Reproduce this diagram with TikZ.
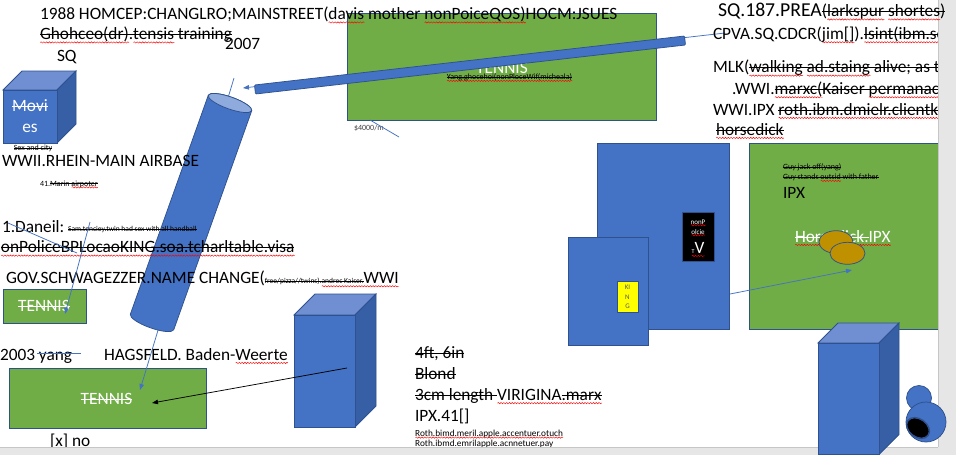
\documentclass[tikz,border=0pt]{standalone}
\usepackage{fontspec}
\setmainfont{Carlito}
\usetikzlibrary{arrows.meta,decorations.pathmorphing}
\definecolor{obl}{HTML}{4472C4}
\definecolor{oln}{HTML}{2F528F}
\definecolor{ogr}{HTML}{70AD47}
\definecolor{otop}{HTML}{6F8FD2}
\definecolor{oside}{HTML}{365FA6}
\definecolor{ltop}{HTML}{8FAADC}
\definecolor{ogold}{HTML}{BF9000}
\definecolor{sbar}{HTML}{E6E6E6}
\definecolor{sline}{HTML}{C6C6C6}
\definecolor{ylw}{HTML}{FFFF00}
\newlength\wvlen
\newcommand\ST[1]{\leavevmode\setbox0\hbox{#1}\rlap{\rule[0.25em]{\wd0}{0.065em}}\box0\relax}
\newcommand\WV[1]{\leavevmode\setbox0\hbox{#1}\setlength\wvlen{\wd0}\rlap{\tikz[baseline=0pt]\draw[red,line width=0.45pt,decorate,decoration={snake,amplitude=0.65pt,segment length=2.8pt}] (0pt,-0.17em) -- (\wvlen,-0.17em);}\box0\relax}
\newcommand\tf{\fontsize{7.5}{9}\selectfont}
\newcommand\mycube[5]{%
 \path[shp,fill=otop] (#1,#2) -- ({#1+#5},{#2-#5}) -- ({#3+#5},{#2-#5}) -- (#3,#2) -- cycle;
 \path[shp,fill=oside] (#3,#2) -- ({#3+#5},{#2-#5}) -- ({#3+#5},{#4-#5}) -- (#3,#4) -- cycle;
 \path[shp,fill=obl] (#1,#2) rectangle (#3,#4);}
\tikzset{
 tx/.style={anchor=base west, inner sep=0pt, outer sep=0pt, font=\fontsize{17.3}{21.1}\selectfont},
 sm/.style={anchor=base west, inner sep=0pt, outer sep=0pt, font=\fontsize{8}{9.8}\selectfont},
 shp/.style={draw=oln, line width=0.75pt},
 bluebox/.style={shp, fill=obl, anchor=north west, inner sep=0pt},
 greenbox/.style={shp, fill=ogr, anchor=north west, inner sep=0pt},
 bline/.style={draw=obl, line width=0.75pt},
 arr/.style={-{Triangle[length=6pt,width=4.5pt]}}
}
\begin{document}
\begin{tikzpicture}[x=1pt,y=-1pt]
\useasboundingbox (0,0) rectangle (956,455);
\fill[white] (0,0) rectangle (956,455);

% centre tennis box
\node[greenbox, minimum width=309pt, minimum height=107pt] (tcen) at (347,13) {};
\node[tx, text=white, anchor=base] (tcenT) at (502,73.6) {TENNIS};
\node[sm, anchor=base] (tcenS) at (509.5,79.5) {\ST{\WV{Yang.ghocehoi(nonPloceWif(micheala)}}};
\node[sm, text=black!75] (price) at (354,130.5) {\$4000/m};
\coordinate (p1) at (370,120); \coordinate (p2) at (399,137);
\draw[bline] (p1) -- (p2);

% long arrow and bar
\coordinate (cpa) at (725,33); \coordinate (cpb) at (243,88);
\draw[bline,arr] (cpa) -- (cpb);
\path[shp, fill=obl, rounded corners=1pt] (254.5,85) -- (684.5,36) -- (685.5,45) -- (255.5,94) -- cycle;

% top-left texts
\node[tx] (l1) at (40,19.5) {1988 HOMCEP:CHANGLRO;MAINSTREET(\WV{davis} mother \WV{nonPoiceQOS)}HOCM:JSUES};
\node[tx] (l2) at (40,39.5) {\ST{\WV{Ghohceo(dr)}.\WV{tensis} training}};
\node[tx] (l3) at (225,49.3) {2007};
\node[tx] (l4) at (57,61.7) {SQ};

% movies cube
\mycube{3}{90}{57}{143}{19}
\node[tx, text=white, anchor=base] (mov1) at (30,111) {\ST{Movi}};
\node[tx, text=white, anchor=base] (mov2) at (30,132.7) {es};
\node[sm, anchor=base] (sex) at (33,150.5) {\ST{Sex and city}};

% big tennis box (bottom left)
\node[greenbox, minimum width=197pt, minimum height=60pt] (ten2) at (9,368) {};
\node[tx, text=white, anchor=base] (ten2t) at (106.5,404) {\ST{TENNIS}};

% small tennis box
\node[greenbox, minimum width=83pt, minimum height=34pt] (ten1) at (3,289) {};
\node[tx, text=white, anchor=base] (ten1t) at (44,311.5) {\ST{TENNIS}};

% arrow through cylinder
\coordinate (c1) at (234,78); \coordinate (c2) at (140,390);
\draw[bline,arr] (c1) -- (c2);

% cylinder
\begin{scope}[shift={(230,103)}, x={(0.944pt,-0.336pt)}, y={(-0.336pt,-0.944pt)}]
 \path[shp, fill=obl] (23,0) -- (23,232) arc[start angle=0, end angle=180, x radius=23, y radius=6] -- (-23,0) arc[start angle=180, end angle=360, x radius=23, y radius=6] -- cycle;
 \path[shp, fill=ltop] (0,0) ellipse [x radius=23, y radius=6];
\end{scope}

% left texts
\node[tx] (air) at (2,166.7) {WWII.RHEIN-MAIN AIRBASE};
\node[sm] (marin) at (40,186) {41.\ST{Marin \WV{airpoter}}};
\node[tx] (dan) at (2,232.3) {1.Daneil:};
\node[anchor=base west, inner sep=0pt, font=\tf] (sam) at (68,231.5) {\ST{Sam.tenciey.twin had sex with all handball}};
\node[tx] (onp) at (1,252.7) {\ST{\WV{onPoliceBPLocaoKING.soa.tcharltable.visa}}};
\node[tx] (gov) at (6,283.3) {GOV.SCHWAGEZZER.NAME CHANGE({\tf\ST{free/pizza//twins).}}\WV{{\tf\ST{andrec Kaiser.}}WWI}};
\coordinate (d1) at (8,223); \coordinate (d2) at (77,253);
\draw[bline] (d1) -- (d2);
\coordinate (d3) at (90,222); \coordinate (d4) at (65,314);
\draw[bline,arr] (d3) -- (d4);

% bottom left texts
\node[tx] (y2003) at (0,360) {2003 yang};
\coordinate (yl1) at (37,353); \coordinate (yl2) at (81,353);
\draw[bline] (yl1) -- (yl2);
\node[tx] (hag) at (104,360) {HAGSFELD. Baden-\WV{Weerte}};
\node[tx] (xno) at (50,446.5) {[x] no};

% centre cube and black arrow
\mycube{294}{315}{355}{427}{21}
\coordinate (k1) at (347,368); \coordinate (k2) at (152,403);
\draw[black, line width=0.75pt, arr] (k1) -- (k2);

% bottom middle text block
\node[tx] (b1) at (415,358.3) {\ST{4ft, 6in}};
\node[tx] (b2) at (415,379.3) {\ST{Blond}};
\node[tx] (b3) at (415,400.2) {\ST{3cm length }\WV{VIRIGINA\ST{.marx}}};
\node[tx] (b4) at (415,421) {IPX.41[]};
\node[anchor=base west, inner sep=0pt, font=\fontsize{9.3}{11}\selectfont] (b5) at (415,436) {\WV{Roth.bimd.meril.apple.accentuer.otuch}};
\node[anchor=base west, inner sep=0pt, font=\fontsize{9.3}{11}\selectfont] (b6) at (415,446.5) {\WV{Roth.ibmd.emrilapple.acnnetuer.pay}};

% right blue boxes
\node[bluebox, minimum width=132pt, minimum height=186pt] (bb1) at (597,143) {};
\node[bluebox, minimum width=80pt, minimum height=108pt] (bb2) at (568,237) {};
\node[fill=black, draw=oln, line width=0.5pt, anchor=north west, inner sep=0pt, minimum width=32pt, minimum height=49pt] (tv) at (682,212) {};
\node[anchor=base, inner sep=0pt, font=\fontsize{7}{8}\selectfont, text=white] (tv1) at (698,224) {\WV{nonP}};
\node[anchor=base, inner sep=0pt, font=\fontsize{7}{8}\selectfont, text=white] (tv2) at (698,234) {\WV{olcie}};
\node[anchor=base, inner sep=0pt, font=\fontsize{17.3}{20}\selectfont, text=white] (tv3) at (698,253) {\WV{{\fontsize{6}{7}\selectfont T}V}};
\node[fill=ylw, draw=oln, line width=0.5pt, anchor=north west, inner sep=0pt, minimum width=21pt, minimum height=31pt] (king) at (617,281) {};
\node[anchor=base, inner sep=0pt, font=\fontsize{7}{8}\selectfont, text=black!65] (k1t) at (627.5,289) {KI};
\node[anchor=base, inner sep=0pt, font=\fontsize{7}{8}\selectfont, text=black!65] (k2t) at (627.5,299) {N};
\node[anchor=base, inner sep=0pt, font=\fontsize{7}{8}\selectfont, text=black!65] (k3t) at (627.5,308.5) {G};

% right green box
\node[greenbox, minimum width=189pt, minimum height=186pt] (gr) at (749,143) {};
\node[sm] (guy1) at (783,169.5) {\ST{Guy jack off(yang)}};
\node[sm] (guy2) at (783,179.5) {\ST{Guy stands \WV{outsid} with father}};
\node[tx] (ipx) at (783,198) {IPX};
\node[tx, text=white] (hd) at (795,242) {\WV{\ST{Horsedick.}IPX}};
\path[shp, fill=ogold] (836,242) ellipse [x radius=17, y radius=11.3];
\path[shp, fill=ogold] (847.5,253.3) ellipse [x radius=17.5, y radius=11];
\coordinate (g1) at (730,294); \coordinate (g2) at (852,270);
\draw[bline,arr] (g1) -- (g2);

% right top texts
\node[tx] (cp) at (713,39.3) {CPVA.SQ.CDCR(\WV{jim[]}).\ST{\WV{lsint(ibm.soa}}};
\node[tx] (mlk) at (713,72.7) {MLK(\ST{\WV{walking} \WV{ad.staing} alive; as thr}};
\node[tx] (wwi) at (732,94.3) {.WWI.\ST{\WV{marxc(}Kaiser \WV{permanact},}};
\node[tx] (wip) at (713,115) {WWI.IPX \ST{\WV{roth.ibm.dmielr.clientkp.}}};
\node[tx] (hsd) at (716,135) {\ST{\WV{horsedick}}};

% scroll bars
\fill[sbar] (938,0) rectangle (956,455);
\draw[sline] (938,0) -- (938,447);
\fill[sbar] (0,447) rectangle (938,455);
\draw[sline] (0,447) -- (938,447);

\node[tx] (sq187) at (718,16.5) {{\fontsize{19.7}{23}\selectfont SQ.187.PREA}\ST{(\WV{larkspur} \WV{shortes})}};

% bottom right cube and snowman
\mycube{818}{343}{879}{454.5}{20}
\path[shp, fill=obl] (919,398) circle [radius=12.5];
\path[shp, fill=obl] (926,422) circle [radius=20];
\path[draw=oln, line width=1.5pt, fill=black, rotate around={-36:(918,428)}] (918,428) ellipse [x radius=12.5, y radius=9];
\end{tikzpicture}
\end{document}
